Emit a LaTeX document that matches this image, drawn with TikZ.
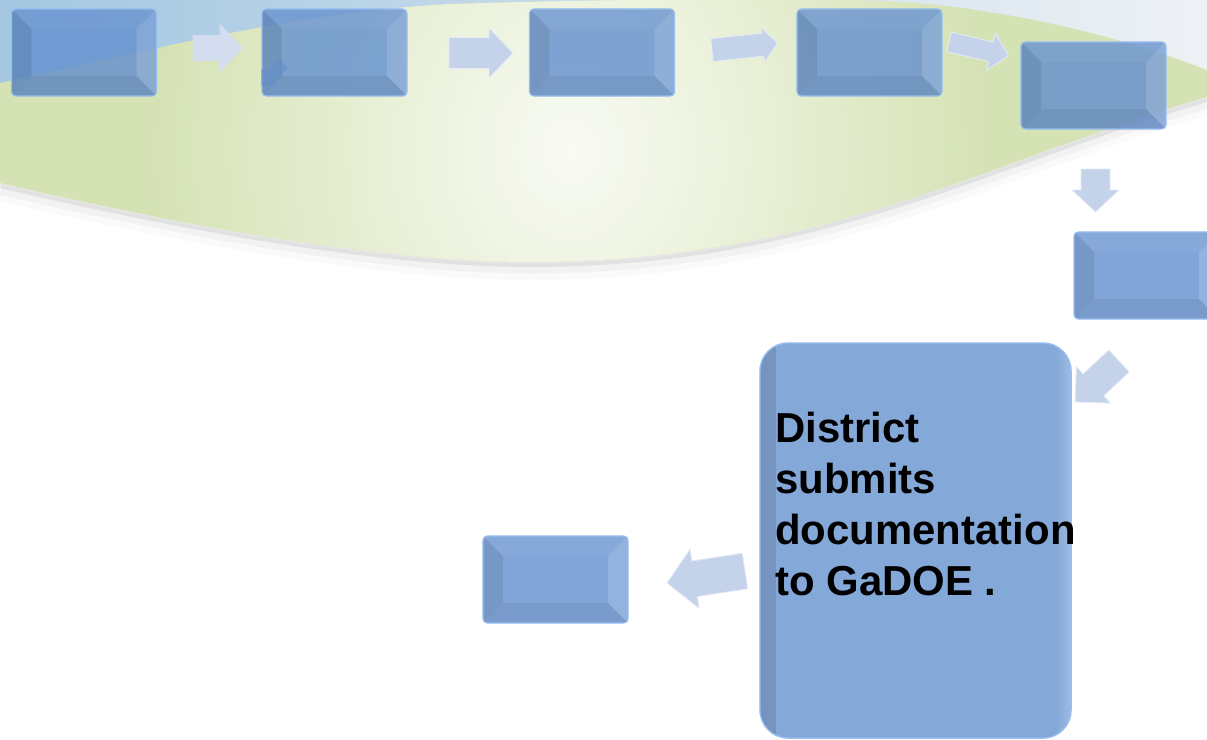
\documentclass[tikz,border=0pt]{standalone}
\usepackage{fontspec}
\setmainfont{Liberation Sans}
\usepackage{xcolor}
\usepackage{tikz}
\usetikzlibrary{positioning}

\definecolor{boxblue}{RGB}{98,143,206}
\definecolor{boxrim}{RGB}{150,190,240}
\definecolor{bigblue}{RGB}{132,168,216}
\definecolor{arrowblue}{RGB}{196,210,234}
\definecolor{arrowrim}{RGB}{228,235,247}
\definecolor{bandblue}{RGB}{163,199,225}
\definecolor{bandmid}{RGB}{205,219,231}
\definecolor{bandgrey}{RGB}{238,241,245}
\definecolor{swgreen}{RGB}{213,226,180}
\definecolor{swlight}{RGB}{249,251,244}

\tikzset{
  stepbox/.style={rectangle, rounded corners=3pt, minimum width=3.625cm, minimum height=2.175cm,
    inner sep=0pt, fill=boxblue, fill opacity=0.8, draw=boxrim, line width=0.8pt,
    path picture={
      \fill[sharp corners, black, fill opacity=0.08] (path picture bounding box.north west) -- ++(0.5cm,-0.5cm)
        -- ([shift={(0.5cm,0.5cm)}]path picture bounding box.south west) -- (path picture bounding box.south west) -- cycle;
      \fill[sharp corners, black, fill opacity=0.06] (path picture bounding box.south west) -- ++(0.5cm,0.5cm)
        -- ([shift={(-0.5cm,0.5cm)}]path picture bounding box.south east) -- (path picture bounding box.south east) -- cycle;
      \fill[sharp corners, white, fill opacity=0.14] (path picture bounding box.north east) -- ++(-0.5cm,-0.5cm)
        -- ([shift={(-0.5cm,0.5cm)}]path picture bounding box.south east) -- (path picture bounding box.south east) -- cycle;
      \fill[sharp corners, white, fill opacity=0.04] (path picture bounding box.north west) -- ++(0.5cm,-0.5cm)
        -- ([shift={(-0.5cm,-0.5cm)}]path picture bounding box.north east) -- (path picture bounding box.north east) -- cycle;
    }},
  bigbox/.style={rectangle, rounded corners=0.7cm, minimum width=7.775cm, minimum height=9.875cm,
    inner sep=0pt, fill=bigblue, draw=boxrim, line width=1pt,
    path picture={
      \shade[sharp corners, left color=black!12!bigblue, right color=bigblue] (path picture bounding box.north west)
        rectangle ([xshift=0.4cm]path picture bounding box.south west);
      \shade[sharp corners, left color=bigblue, right color=white!22!bigblue] ([xshift=-0.4cm]path picture bounding box.north east)
        rectangle (path picture bounding box.south east);
    }},
  flowarrow/.style={fill=arrowblue, draw=arrowrim, line width=0.6pt, line join=round},
  % length, head width, shaft width, head length (px)
  pics/blockarrow/.style n args={4}{code={
    \filldraw (0,-#3/2) -- (#1-#4,-#3/2) -- (#1-#4,-#2/2) -- (#1,0) -- (#1-#4,#2/2) -- (#1-#4,#3/2) -- (0,#3/2) -- cycle;
  }},
  boxtext/.style={align=left, inner sep=0pt, text=black, font=\fontsize{29.8pt}{36.3pt}\selectfont\bfseries}
}

\begin{document}
\begin{tikzpicture}[x=0.025cm, y=-0.025cm]
\useasboundingbox (0,0) rectangle (1207,739);
\clip (0,0) rectangle (1207,739);

% backdrop
\shade[left color=bandblue, middle color=bandmid, right color=bandgrey] (0,0) rectangle (1207,95);
\foreach \dy/\lw/\op in {2/6/0.16, 6/11/0.08, 10/16/0.04}
  \draw[black!45, line width=\lw*0.025cm, opacity=\op] (0,183+\dy) .. controls (180,225+\dy) and (380,262+\dy) .. (530,262+\dy)
    .. controls (820,262+\dy) and (990,160+\dy) .. (1207,97+\dy);
\begin{scope}
\clip (0,83) .. controls (150,50) and (300,12) .. (450,4) .. controls (650,-2) and (820,-2) .. (900,2)
  .. controls (1020,10) and (1130,40) .. (1207,70) -- (1207,97) .. controls (990,160) and (820,262) .. (530,262)
  .. controls (380,262) and (180,225) .. (0,183) -- cycle;
\fill[swgreen] (0,0) rectangle (1207,300);
\shade[inner color=swlight, outer color=swgreen] (570,150) ellipse [x radius=420, y radius=480];
\end{scope}

\node[stepbox] (b1) at (84,52.5) {};
\node[stepbox] (b2) at (334.5,52.5) {};
\node[stepbox] (b3) at (602,52.5) {};
\node[stepbox] (b4) at (869.5,52.5) {};
\node[stepbox] (b5) at (1093.5,85.5) {};
\node[stepbox] (b6) at (1146.5,275.5) {};
\node[bigbox] (b7) at (915.5,540.5) {};
\node[stepbox] (b8) at (555.5,579.5) {};
\node[boxtext, anchor=north west] (note) at (775,412) {District\\submits\\documentation\\to GaDOE .};

\pic[flowarrow, fill=white!25!arrowblue, draw=white!25!arrowblue] (a1) at (193,48) {blockarrow={49}{47}{25}{22}};
\pic[flowarrow, rotate=225, fill=boxblue, draw=boxblue, opacity=0.55] (a0) at (283,64) {blockarrow={30}{22}{12}{11}};
\pic[flowarrow] (a2) at (449,53) {blockarrow={64}{50}{31}{24}};
\pic[flowarrow, rotate=6] (a3) at (712,50) {blockarrow={66}{35}{23}{15}};
\pic[flowarrow, rotate=-13] (a4) at (949,42) {blockarrow={61}{38}{20}{18}};
\pic[flowarrow, rotate=-90] (a5) at (1095.5,169) {blockarrow={43}{47}{29}{22}};
\pic[flowarrow, rotate=223] (a6) at (1119,361) {blockarrow={60}{50}{30}{25}};
\pic[flowarrow, rotate=188.7] (a7) at (745,571) {blockarrow={79}{60}{36}{28}};
\end{tikzpicture}
\end{document}
